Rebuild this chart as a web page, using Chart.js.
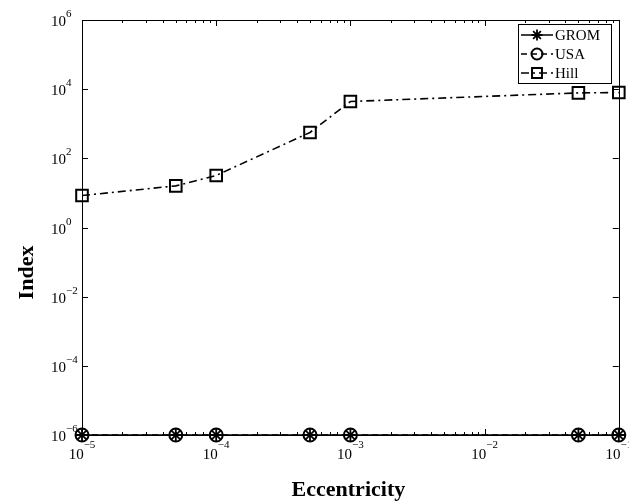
<!DOCTYPE html>
<html>
<head>
<meta charset="utf-8">
<script src="https://cdn.jsdelivr.net/npm/chart.js@4"></script>
<style>
  body { margin: 0; background: #fff; }
  #wrap { width: 629px; height: 502px; }
</style>
</head>
<body>
<div id="wrap"><canvas id="indexChart" width="629" height="502"></canvas></div>
<script>
// data
const eccentricity = [1e-5, 5e-5, 1e-4, 5e-4, 1e-3, 5e-2, 1e-1];
const gromIndex = [1e-6, 1e-6, 1e-6, 1e-6, 1e-6, 1e-6, 1e-6];
const usaIndex = [1e-6, 1e-6, 1e-6, 1e-6, 1e-6, 1e-6, 1e-6];
const hillIndex = [8.4, 16, 32, 560, 4400, 7800, 8000];
const xDecades = [-5, -4, -3, -2, -1];
const yDecades = [-6, -4, -2, 0, 2, 4, 6];

const FONT = '"Liberation Serif", "Times New Roman", serif';

function pts(ys) {
  return eccentricity.map((x, i) => ({ x: x, y: ys[i] }));
}

// box, inward ticks, tick labels, titles, legend
const matlabAxes = {
  id: 'matlabAxes',
  beforeDatasetsDraw(chart) {
    const { ctx, chartArea: a, scales } = chart;
    const xs = scales.x, ys = scales.y;
    ctx.save();
    ctx.strokeStyle = '#000';
    ctx.lineWidth = 1;
    ctx.beginPath();
    xDecades.forEach(d => {
      for (let k = 1; k <= 9; k++) {
        const v = k * Math.pow(10, d);
        if (v > 1e-1 + 1e-12) break;
        const px = Math.round(xs.getPixelForValue(v)) + 0.5;
        const len = k === 1 ? 6 : 3;
        ctx.moveTo(px, a.bottom); ctx.lineTo(px, a.bottom - len);
        ctx.moveTo(px, a.top); ctx.lineTo(px, a.top + len);
      }
    });
    yDecades.forEach(d => {
      const py = Math.round(ys.getPixelForValue(Math.pow(10, d))) + 0.5;
      ctx.moveTo(a.left, py); ctx.lineTo(a.left + 6, py);
      ctx.moveTo(a.right, py); ctx.lineTo(a.right - 6, py);
    });
    ctx.stroke();
    ctx.strokeRect(Math.round(a.left) + 0.5, Math.round(a.top) + 0.5,
      Math.round(a.right - a.left), Math.round(a.bottom - a.top));
    ctx.restore();
  },
  afterDraw(chart) {
    const { ctx, chartArea: a, scales } = chart;
    const xs = scales.x, ys = scales.y;
    ctx.save();
    ctx.fillStyle = '#000';
    ctx.textBaseline = 'alphabetic';
    const exp = d => (d < 0 ? '\u2212' : '') + Math.abs(d);

    // y tick labels
    yDecades.forEach(d => {
      const py = ys.getPixelForValue(Math.pow(10, d));
      ctx.font = '15px ' + FONT;
      ctx.textAlign = 'right';
      ctx.fillText('10', 66, py + 6);
      ctx.font = '11px ' + FONT;
      ctx.textAlign = 'left';
      ctx.fillText(exp(d), 66, py - 3);
    });

    // x tick labels
    xDecades.forEach(d => {
      const px = xs.getPixelForValue(Math.pow(10, d));
      ctx.font = '15px ' + FONT;
      const w1 = ctx.measureText('10').width;
      ctx.font = '11px ' + FONT;
      const w2 = ctx.measureText(exp(d)).width;
      const x0 = px - (w1 + w2) / 2;
      ctx.textAlign = 'left';
      ctx.font = '15px ' + FONT;
      ctx.fillText('10', x0, a.bottom + 24);
      ctx.font = '11px ' + FONT;
      ctx.fillText(exp(d), x0 + w1, a.bottom + 13);
    });

    // axis titles
    ctx.font = 'bold 22px ' + FONT;
    ctx.textAlign = 'center';
    ctx.textBaseline = 'middle';
    ctx.fillText('Eccentricity', (a.left + a.right) / 2 - 2, 490);
    ctx.translate(27, (a.top + a.bottom) / 2 + 45);
    ctx.rotate(-Math.PI / 2);
    ctx.fillText('Index', 0, 0);
    ctx.restore();

    // legend
    ctx.save();
    const lx = 518, ly = 24, lw = 93, lh = 59;
    ctx.fillStyle = '#fff';
    ctx.fillRect(lx, ly, lw, lh);
    ctx.strokeStyle = '#000';
    ctx.lineWidth = 1;
    ctx.strokeRect(lx + 0.5, ly + 0.5, lw, lh);
    const rows = [35, 54, 73];
    chart.data.datasets.forEach((ds, i) => {
      const y = rows[i];
      ctx.strokeStyle = '#000';
      ctx.lineWidth = ds.borderWidth;
      ctx.setLineDash(ds.borderDash || []);
      ctx.beginPath();
      ctx.moveTo(521, y); ctx.lineTo(553, y);
      ctx.stroke();
      ctx.setLineDash([]);
      ctx.lineWidth = ds.pointBorderWidth;
      ctx.fillStyle = 'rgba(0,0,0,0)';
      Chart.helpers.drawPoint(ctx, {
        pointStyle: ds.pointStyle, rotation: 0,
        radius: ds.pointStyle === 'rect' ? 7 : 5.5,
        borderWidth: ds.pointBorderWidth
      }, 537, y);
      ctx.fillStyle = '#000';
      ctx.font = '15px ' + FONT;
      ctx.textAlign = 'left';
      ctx.textBaseline = 'middle';
      ctx.fillText(ds.label, 555, y + 1);
    });
    ctx.restore();
  }
};

const ctx = document.getElementById('indexChart').getContext('2d');
const indexChart = new Chart(ctx, {
  type: 'line',
  data: {
    datasets: [{
      label: 'GROM',
      data: pts(gromIndex),
      borderColor: '#000',
      backgroundColor: 'transparent',
      borderWidth: 1.5,
      pointStyle: 'star',
      pointRadius: 6.5,
      pointBorderWidth: 1.8,
      pointBorderColor: '#000',
      pointBackgroundColor: 'transparent',
      clip: false
    }, {
      label: 'USA',
      data: pts(usaIndex),
      borderColor: '#000',
      backgroundColor: 'transparent',
      borderWidth: 1.5,
      borderDash: [6, 4],
      pointStyle: 'circle',
      pointRadius: 6.5,
      pointBorderWidth: 2,
      pointBorderColor: '#000',
      pointBackgroundColor: 'transparent',
      clip: false
    }, {
      label: 'Hill',
      data: pts(hillIndex),
      borderColor: '#000',
      backgroundColor: 'transparent',
      borderWidth: 1.6,
      borderDash: [8, 4, 2, 4],
      pointStyle: 'rect',
      pointRadius: 8.2,
      pointBorderWidth: 2,
      pointBorderColor: '#000',
      pointBackgroundColor: 'transparent',
      clip: false
    }]
  },
  options: {
    responsive: false,
    animation: false,
    layout: { padding: { left: 82, right: 10, top: 20, bottom: 67 } },
    scales: {
      x: { type: 'logarithmic', min: 1e-5, max: 1e-1, display: false },
      y: { type: 'logarithmic', min: 1e-6, max: 1e6, display: false }
    },
    plugins: {
      legend: { display: false },
      tooltip: { enabled: false }
    }
  },
  plugins: [matlabAxes]
});
</script>
</body>
</html>
